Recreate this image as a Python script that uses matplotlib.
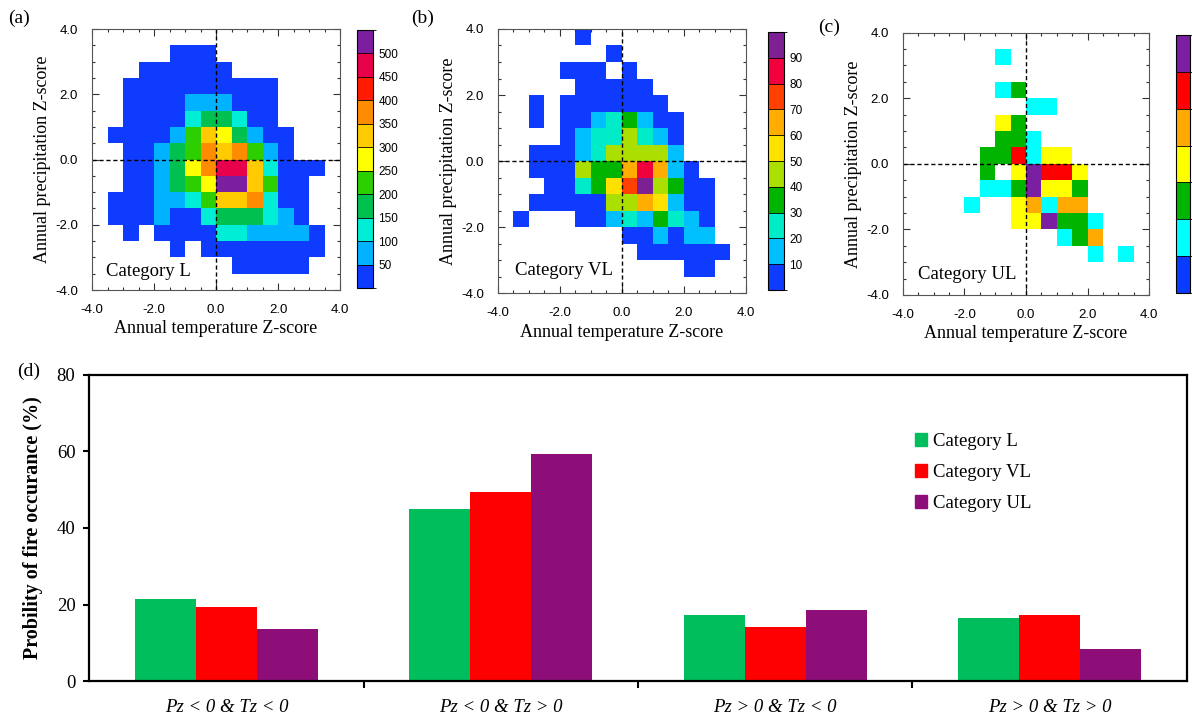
import numpy as np
import matplotlib
matplotlib.use('Agg')
import matplotlib.pyplot as plt
from matplotlib.colors import ListedColormap, BoundaryNorm
from matplotlib.patches import Patch

plt.rcParams['font.family'] = 'serif'
plt.rcParams['font.serif'] = ['Liberation Serif', 'DejaVu Serif']

# 2-D histograms: one string per row, top row = Pz 3.5..4.0, bottom row = Pz -4.0..-3.5
# 16 columns from Tz=-4.0 in steps of 0.5; char = colour class, '.' = no data
grid_L = [
    "................",
    ".....000........",
    "...000000.......",
    "..0000000000....",
    "..0000111000....",
    "..0000233200....",
    ".000014653100...",
    "..00134767410...",
    "..0013579962000.",
    "..001345aa6400..",
    ".0001124667200..",
    ".0001002333210..",
    "..0.00002211110.",
    ".....0.00000000.",
    ".........00000..",
    "................",
]
grid_VL = [
    ".....0..........",
    ".......0........",
    "....000.0.......",
    ".....00000......",
    "..0.0000000.....",
    "..0.00123100....",
    "....01224210....",
    "..0001244441....",
    "..00043368610...",
    "...00235794300..",
    "..000004465100..",
    ".0...001213210..",
    "........001011..",
    ".........000000.",
    "............00..",
    "................",
]
grid_UL = [
    "................",
    "......1.........",
    "................",
    "......12........",
    "........11......",
    "......32........",
    "......221.......",
    ".....225133.....",
    ".....2.36553....",
    ".....1126332....",
    "....1..34144....",
    ".......336221...",
    "..........124...",
    "............1.1.",
    "................",
    "................",
]

levels_L = [0, 50, 100, 150, 200, 250, 300, 350, 400, 450, 500, 550]
levels_VL = [0, 10, 20, 30, 40, 50, 60, 70, 80, 90, 100]
levels_UL = [0, 1, 2, 3, 4, 5, 6, 7]

colors_L = ['#0F3BFF', '#00B2FF', '#00EED6', '#00C050', '#2ECF00', '#FFFF00',
            '#FFCA00', '#FF8C00', '#FF1A00', '#E8004A', '#7B1FA0']
colors_VL = ['#0F3BFF', '#00BFFF', '#00EBC8', '#00B400', '#AADF00', '#FFE100',
             '#FFAD00', '#FF4000', '#F0003C', '#7D2093']
colors_UL = ['#0A3CFF', '#00FFFF', '#00B400', '#FFFF00', '#FFAA00', '#FF0000', '#7B1FA2']

# bar chart
groups = ['Pz < 0 & Tz < 0', 'Pz < 0 & Tz > 0', 'Pz > 0 & Tz < 0', 'Pz > 0 & Tz > 0']
prob_L = [21.4, 44.9, 17.2, 16.5]
prob_VL = [19.3, 49.4, 14.0, 17.2]
prob_UL = [13.5, 59.3, 18.5, 8.4]
bar_colors = ['#00BE5C', '#FF0000', '#8D0E79']


def grid_to_values(grid, levels):
    mids = [(levels[k] + levels[k + 1]) / 2.0 for k in range(len(levels) - 1)]
    z = np.full((len(grid), len(grid[0])), np.nan)
    for i, row in enumerate(grid[::-1]):
        for j, ch in enumerate(row):
            if ch != '.':
                z[i, j] = mids[int(ch, 16)]
    return np.ma.masked_invalid(z)


edges = np.arange(-4.0, 4.01, 0.5)
tick_font = {'family': 'Liberation Sans', 'size': 9.5}


def heat_panel(ax_rect, cb_rect, grid, levels, colors, name, txt_xy, cb_ticks):
    ax = fig.add_axes(ax_rect)
    cmap = ListedColormap(colors)
    norm = BoundaryNorm(levels, cmap.N)
    z = grid_to_values(grid, levels)
    mesh = ax.pcolormesh(edges, edges, z, cmap=cmap, norm=norm, edgecolors='none')
    ax.axhline(0, color='k', ls=(0, (3, 2)), lw=1)
    ax.axvline(0, color='k', ls=(0, (3, 2)), lw=1)
    ax.set_xlim(-4, 4)
    ax.set_ylim(-4, 4)
    ticks = np.arange(-4, 4.1, 2)
    ax.set_xticks(ticks)
    ax.set_yticks(ticks)
    ax.set_xticklabels(['%.1f' % t for t in ticks], fontdict=tick_font)
    ax.set_yticklabels(['%.1f' % t for t in ticks], fontdict=tick_font)
    ax.set_xticks(np.arange(-4, 4.01, 0.5), minor=True)
    ax.set_yticks(np.arange(-4, 4.01, 0.5), minor=True)
    ax.tick_params(which='both', direction='in', top=True, right=True, width=0.8, colors='#333333', labelcolor='k')
    ax.tick_params(which='major', length=5, pad=10)
    ax.tick_params(which='minor', length=2.5)
    for s in ax.spines.values():
        s.set_linewidth(0.8)
        s.set_color('#555555')
    ax.set_xlabel('Annual temperature Z-score', fontsize=13, labelpad=3)
    ax.set_ylabel('Annual precipitation Z-score', fontsize=13, labelpad=3)
    ax.text(txt_xy[0], txt_xy[1], name, fontsize=13.5, va='center', ha='left')

    cax = fig.add_axes(cb_rect)
    cb = fig.colorbar(mesh, cax=cax, drawedges=True, ticks=cb_ticks)
    cb.outline.set_linewidth(0.8)
    cb.dividers.set_linewidth(0.6)
    cax.tick_params(length=0, pad=4)
    for lab in cax.get_yticklabels():
        lab.set_fontfamily('Liberation Sans')
        lab.set_fontsize(8.5)
    return ax


fig = plt.figure(figsize=(11.92, 7.17), dpi=100)

heat_panel([0.0772, 0.5955, 0.2081, 0.3640], [0.2995, 0.5983, 0.0134, 0.3598],
           grid_L, levels_L, colors_L, 'Category L', (-3.55, -3.42), levels_L[1:-1])
heat_panel([0.4175, 0.5907, 0.2081, 0.3689], [0.6443, 0.5955, 0.0134, 0.3598],
           grid_VL, levels_VL, colors_VL, 'Category VL', (-3.45, -3.3), levels_VL[1:-1])
heat_panel([0.7573, 0.5886, 0.2069, 0.3658], [0.9866, 0.5914, 0.0117, 0.3598],
           grid_UL, levels_UL, colors_UL, 'Category UL', (-3.5, -3.38), [])

fig.text(0.007, 0.975, '(a)', fontsize=14, va='center')
fig.text(0.345, 0.975, '(b)', fontsize=14, va='center')
fig.text(0.686, 0.962, '(c)', fontsize=14, va='center')
fig.text(0.014, 0.482, '(d)', fontsize=14, va='center')

# (d) bar chart
ax = fig.add_axes([0.0749, 0.0502, 0.9206, 0.4268])
x = np.arange(len(groups))
w = 2.0 / 9.0
ax.bar(x - w, prob_L, w, color=bar_colors[0], label='Category L')
ax.bar(x, prob_VL, w, color=bar_colors[1], label='Category VL')
ax.bar(x + w, prob_UL, w, color=bar_colors[2], label='Category UL')
ax.set_xlim(-0.5, 3.5)
ax.set_ylim(0, 80)
ax.set_yticks([0, 20, 40, 60, 80])
ax.set_xticks(x)
ax.set_xticklabels(groups, fontsize=13.5, style='italic')
ax.set_xticks([0.5, 1.5, 2.5], minor=True)
ax.tick_params(axis='x', which='major', length=0, pad=13)
ax.tick_params(axis='x', which='minor', length=5, width=1.5, direction='out')
ax.tick_params(axis='y', length=4, width=1.5, direction='out', labelsize=13.5, pad=6)
for s in ax.spines.values():
    s.set_linewidth(1.6)
ax.set_ylabel('Probility of fire occurance (%)', fontsize=14.5, fontweight='bold', labelpad=10)

handles = [Patch(color=c) for c in bar_colors]
ax.legend(handles, ['Category L', 'Category VL', 'Category UL'], loc='upper left',
          bbox_to_anchor=(0.737, 0.865), frameon=False, fontsize=13.5,
          handlelength=0.65, handleheight=0.65, handletextpad=0.3, labelspacing=0.75)

fig.savefig('out.png', dpi=100)
